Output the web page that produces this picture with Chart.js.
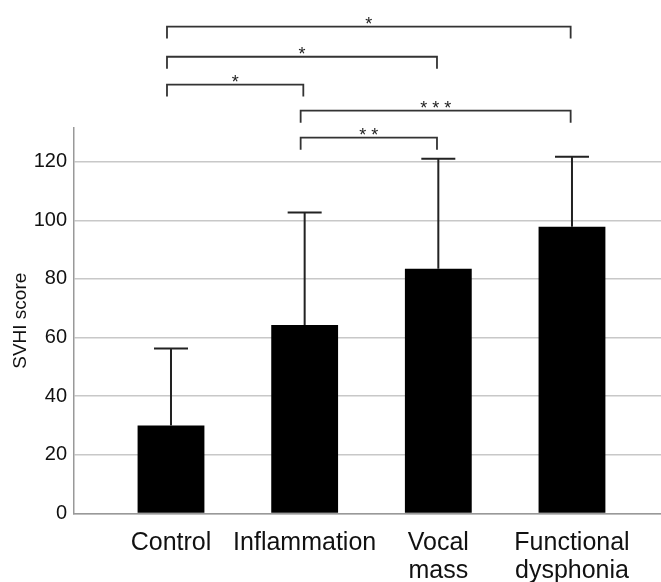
<!DOCTYPE html>
<html>
<head>
<meta charset="utf-8">
<script src="https://cdn.jsdelivr.net/npm/chart.js@4"></script>
<style>
  html, body { margin: 0; padding: 0; background: #fff; }
  #wrap { width: 661px; height: 582px; }
</style>
</head>
<body>
<div id="wrap"><canvas id="svhi"></canvas></div>
<script>
const groups = ["Control", "Inflammation", ["Vocal", "mass"], ["Functional", "dysphonia"]];
const means = [30, 64.3, 83.5, 97.8];
const sds = [26.3, 38.4, 37.5, 23.9];
const yTicks = [0, 20, 40, 60, 80, 100, 120];

// significance brackets: from group, to group, level (score units), mark
const pairsFrom = [0, 0, 0, 1, 1];
const pairsTo = [1, 2, 3, 2, 3];
const pairsLevel = [146.3, 155.8, 166.1, 128.2, 137.4];
const pairsMark = ["*", "*", "*", "* *", "* * *"];

const errorBars = {
    id: 'errorBars',
    afterDatasetsDraw(chart) {
        const ctx = chart.ctx;
        const xs = chart.scales.x, ys = chart.scales.y;
        ctx.save();
        ctx.strokeStyle = '#222';
        ctx.lineWidth = 2;
        means.forEach((m, i) => {
            const x = xs.getPixelForValue(i);
            const y0 = ys.getPixelForValue(m);
            const y1 = ys.getPixelForValue(m + sds[i]);
            ctx.beginPath();
            ctx.moveTo(x, y0);
            ctx.lineTo(x, y1);
            ctx.moveTo(x - 17, y1);
            ctx.lineTo(x + 17, y1);
            ctx.stroke();
        });
        ctx.restore();
    }
};

const brackets = {
    id: 'brackets',
    afterDraw(chart) {
        const ctx = chart.ctx;
        const xs = chart.scales.x, ys = chart.scales.y;
        ctx.save();
        ctx.strokeStyle = '#333';
        ctx.fillStyle = '#222';
        ctx.lineWidth = 1.8;
        ctx.font = '18px "Liberation Sans", Arial, sans-serif';
        ctx.textAlign = 'center';
        ctx.textBaseline = 'alphabetic';
        pairsFrom.forEach((a, i) => {
            const xa = xs.getPixelForValue(a - 0.03);
            const xb = xs.getPixelForValue(pairsTo[i] - 0.01);
            const y = ys.getPixelForValue(pairsLevel[i]);
            ctx.beginPath();
            ctx.moveTo(xa, y + 12);
            ctx.lineTo(xa, y);
            ctx.lineTo(xb, y);
            ctx.lineTo(xb, y + 12);
            ctx.stroke();
            ctx.fillText(pairsMark[i], (xa + xb) / 2, y + 3);
        });
        ctx.restore();
    }
};

new Chart(document.getElementById('svhi'), {
    type: 'bar',
    data: {
        datasets: [{
            data: means.map((m, i) => ({ x: i, y: m })),
            backgroundColor: '#000',
            borderWidth: 0,
            barPercentage: 0.5,
            categoryPercentage: 1
        }]
    },
    options: {
        responsive: true,
        maintainAspectRatio: false,
        animation: false,
        layout: { padding: { top: 128, right: 0, left: 0, bottom: 0 } },
        plugins: { legend: { display: false }, tooltip: { enabled: false } },
        scales: {
            x: {
                type: 'linear',
                offset: false,
                bounds: 'data',
                min: -0.7257,
                max: 3.666,
                afterBuildTicks: s => { s.ticks = groups.map((g, i) => ({ value: i })); },
                afterFit: s => { s.height = 68.5; },
                grid: { display: false },
                border: { display: true, color: '#999', width: 1.5 },
                ticks: {
                    callback: v => groups[v],
                    color: '#111',
                    padding: 8,
                    maxRotation: 0,
                    autoSkip: false,
                    font: { family: '"Liberation Sans", Arial, sans-serif', size: 25, lineHeight: 1.1 }
                }
            },
            y: {
                min: 0,
                max: 131.5,
                afterBuildTicks: s => { s.ticks = yTicks.map(v => ({ value: v })); },
                afterFit: s => { s.width = 74; },
                grid: { color: '#c8c8c8', lineWidth: 1.5, drawTicks: false },
                border: { display: true, color: '#999', width: 1.5 },
                ticks: {
                    color: '#111',
                    padding: 7,
                    font: { family: '"Liberation Sans", Arial, sans-serif', size: 20 }
                },
                title: {
                    display: true,
                    text: 'SVHI score',
                    color: '#111',
                    padding: { top: 9, bottom: 0 },
                    font: { family: '"Liberation Sans", Arial, sans-serif', size: 19 }
                }
            }
        }
    },
    plugins: [errorBars, brackets]
});
</script>
</body>
</html>
